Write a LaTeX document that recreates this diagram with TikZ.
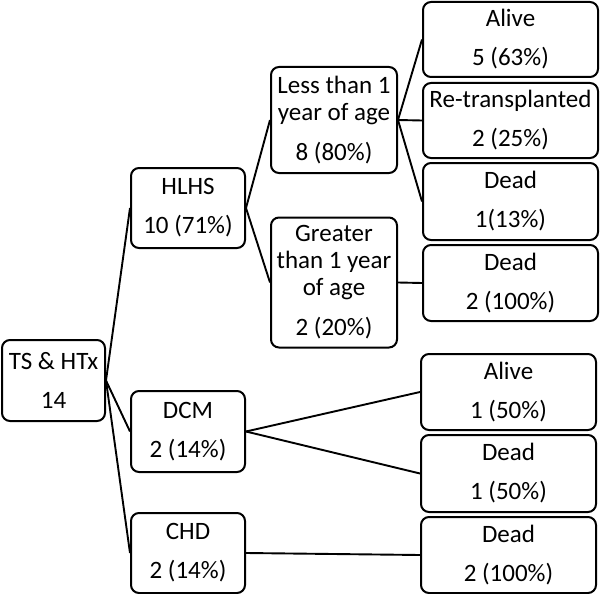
\documentclass[tikz,border=0pt]{standalone}
\usepackage{fontspec}
\setmainfont{Carlito}
\begin{document}
\begin{tikzpicture}[x=1pt,y=-1pt,
  box/.style={draw, line width=2pt, rounded corners=8pt, inner sep=0pt, align=center,
    font=\fontsize{25}{27}\selectfont},
  link/.style={line width=1.9pt}]
\useasboundingbox (0,0) rectangle (600,594);
\node[box, minimum width=103pt, minimum height=81pt] (ts) at (53.5,380.5) {TS \& HTx\\[12pt]14};
\node[box, minimum width=114pt, minimum height=80pt] (hlhs) at (188,208) {HLHS\\[12pt]10 (71\%)};
\node[box, minimum width=114pt, minimum height=81pt] (dcm) at (188,431.5) {DCM\\[12pt]2 (14\%)};
\node[box, minimum width=114pt, minimum height=80pt] (chd) at (188,553) {CHD\\[12pt]2 (14\%)};
\node[box, minimum width=126pt, minimum height=106pt] (less) at (334,120) {Less than 1\\year of age\\[13pt]8 (80\%)};
\node[box, minimum width=126pt, minimum height=130pt] (greater) at (334,282.5) {Greater\\than 1 year\\of age\\[13pt]2 (20\%)};
\node[box, minimum width=175pt, minimum height=75pt] (a1) at (510.5,39.5) {Alive\\[12pt]5 (63\%)};
\node[box, minimum width=175pt, minimum height=75pt] (re) at (510.5,120.5) {Re-transplanted\\[12pt]2 (25\%)};
\node[box, minimum width=175pt, minimum height=77pt] (d1) at (510.5,201.5) {Dead\\[12pt]1(13\%)};
\node[box, minimum width=175pt, minimum height=76pt] (d2) at (510.5,283) {Dead\\[12pt]2 (100\%)};
\node[box, minimum width=175pt, minimum height=76pt] (a2) at (508.5,392) {Alive\\[12pt]1 (50\%)};
\node[box, minimum width=175pt, minimum height=77pt] (d3) at (508.5,473.5) {Dead\\[12pt]1 (50\%)};
\node[box, minimum width=175pt, minimum height=76pt] (d4) at (508.5,555) {Dead\\[12pt]2 (100\%)};
\draw[link] (ts.east) -- (hlhs.west);
\draw[link] (ts.east) -- (dcm.west);
\draw[link] (ts.east) -- (chd.west);
\draw[link] (hlhs.east) -- (less.west);
\draw[link] (hlhs.east) -- (greater.west);
\draw[link] (less.east) -- (a1.west);
\draw[link] (less.east) -- (re.west);
\draw[link] (less.east) -- (d1.west);
\draw[link] (greater.east) -- (d2.west);
\draw[link] (dcm.east) -- (a2.west);
\draw[link] (dcm.east) -- (d3.west);
\draw[link] (chd.east) -- (d4.west);
\end{tikzpicture}
\end{document}
